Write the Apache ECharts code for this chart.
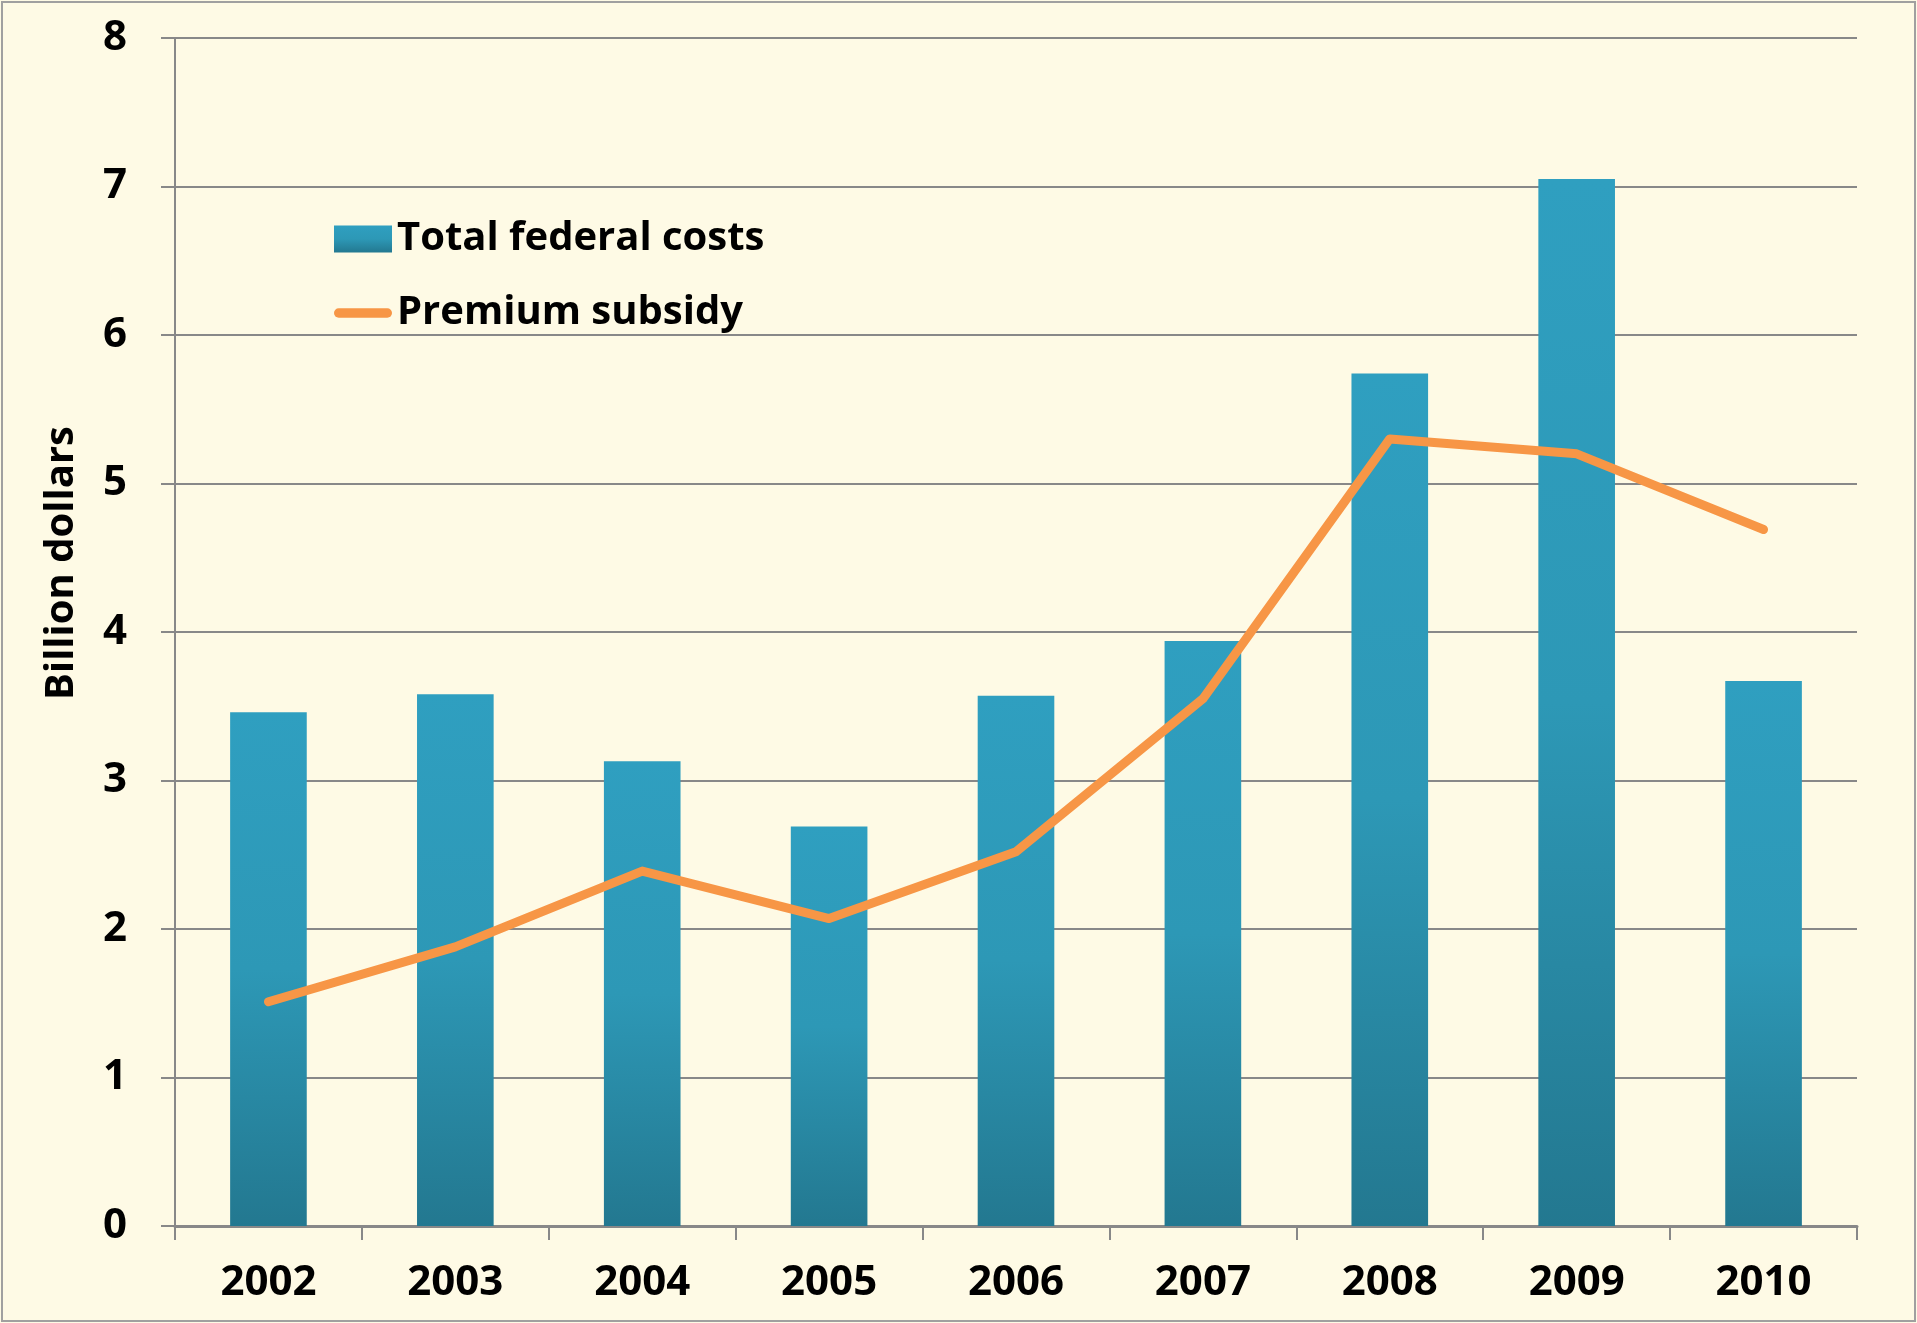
<!DOCTYPE html>
<html>
<head>
<meta charset="utf-8">
<script src="https://cdn.jsdelivr.net/npm/echarts@6/dist/echarts.min.js"></script>
<style>
html,body{margin:0;padding:0;background:#FEFAE5;}
#c{width:1917px;height:1323px;}
</style>
</head>
<body>
<div id="c"></div>
<script>
const years = ['2002','2003','2004','2005','2006','2007','2008','2009','2010'];
const totalFederalCosts = [3.46, 3.58, 3.13, 2.69, 3.57, 3.94, 5.74, 7.05, 3.67];
const premiumSubsidy = [1.51, 1.88, 2.39, 2.07, 2.52, 3.55, 5.30, 5.20, 4.69];
const yTicks = [0, 1, 2, 3, 4, 5, 6, 7, 8];

const FONT = '"Open Sans", "Noto Sans", sans-serif';
const chart = echarts.init(document.getElementById('c'), null, {renderer: 'canvas'});
const barGrad = new echarts.graphic.LinearGradient(0, 0, 0, 1, [
  {offset: 0, color: '#2F9FC0'},
  {offset: 0.5, color: '#2D98B6'},
  {offset: 1, color: '#237890'}
]);
chart.setOption({
  backgroundColor: '#FEFAE5',
  animation: false,
  grid: {left: 175, right: 60, top: 38, bottom: 97, containLabel: false},
  legend: {
    orient: 'vertical',
    left: 334,
    top: 219,
    padding: 0,
    itemWidth: 58,
    itemHeight: 27,
    itemGap: 34,
    textStyle: {fontFamily: FONT, fontWeight: 'bold', fontSize: 40, color: '#000', lineHeight: 40},
    data: [
      {name: 'Total federal costs', icon: 'rect'},
      {name: 'Premium subsidy', icon: 'path://M5,0 L57,0 A5,5 0 0 1 57,10 L5,10 A5,5 0 0 1 5,0 Z'}
    ]
  },
  xAxis: {
    type: 'category',
    data: years,
    axisLine: {lineStyle: {color: '#888', width: 3}},
    axisTick: {show: true, length: 14, lineStyle: {color: '#888', width: 2}},
    axisLabel: {fontFamily: FONT, fontWeight: 'bold', fontSize: 42, color: '#000', margin: 36}
  },
  yAxis: {
    type: 'value',
    min: yTicks[0],
    max: yTicks[yTicks.length - 1],
    interval: 1,
    axisLine: {show: true, lineStyle: {color: '#888', width: 2}},
    axisTick: {show: true, length: 14, lineStyle: {color: '#888', width: 2}},
    splitLine: {show: true, lineStyle: {color: '#888', width: 2}},
    axisLabel: {fontFamily: FONT, fontWeight: 'bold', fontSize: 42, color: '#000', margin: 48}
  },
  graphic: [
    {
      type: 'text',
      x: 62, y: 563,
      rotation: Math.PI / 2,
      style: {
        text: 'Billion dollars',
        fontFamily: FONT, fontWeight: 'bold', fontSize: 40, fill: '#000',
        align: 'center', verticalAlign: 'middle'
      }
    },
    {
      type: 'rect',
      shape: {x: 2, y: 2, width: 1913, height: 1319},
      style: {fill: 'none', stroke: '#A0A0A0', lineWidth: 2},
      silent: true
    }
  ],
  series: [
    {
      name: 'Total federal costs',
      type: 'bar',
      data: totalFederalCosts,
      barWidth: '41%',
      itemStyle: {color: barGrad}
    },
    {
      name: 'Premium subsidy',
      type: 'line',
      data: premiumSubsidy,
      symbol: 'none',
      color: '#F79646',
      itemStyle: {color: '#F79646'},
      lineStyle: {color: '#F79646', width: 9, cap: 'round', join: 'round'}
    }
  ]
});
</script>
</body>
</html>
